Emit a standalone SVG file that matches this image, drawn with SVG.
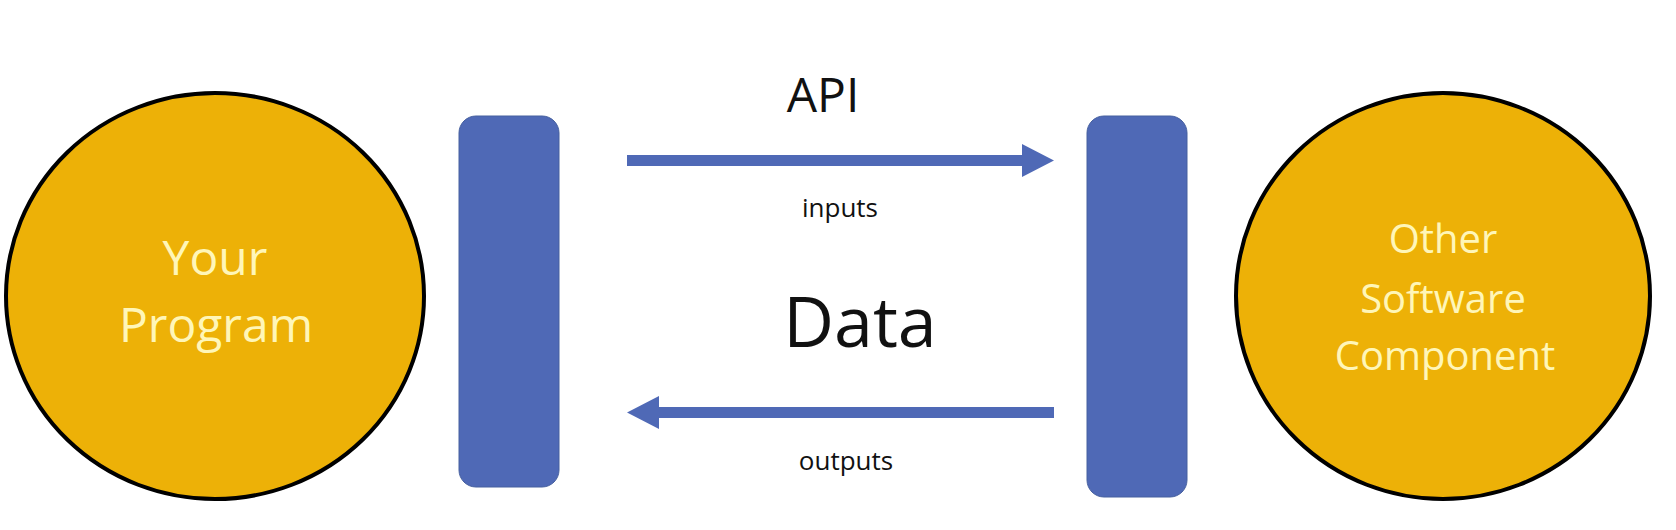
<svg xmlns="http://www.w3.org/2000/svg" width="1676" height="530" viewBox="0 0 1676 530">
  <style>
    .circle { fill: #EDB107; stroke: #000000; stroke-width: 4; }
    .bar { fill: #4F69B6; stroke: #46609f; stroke-width: 1; }
    .arrow { fill: #4F69B6; }
    .ctext { font-family: "Open Sans", "Noto Sans", sans-serif; fill: #FFF6B8; text-anchor: middle; }
    .label { font-family: "Open Sans", "Noto Sans", sans-serif; fill: #111111; text-anchor: middle; }
  </style>
  <rect x="0" y="0" width="1676" height="530" fill="#ffffff"/>
  <g id="your-program">
    <ellipse class="circle" cx="215" cy="296" rx="209" ry="203"/>
    <text class="ctext" x="215" y="275" font-size="48">Your</text>
    <text class="ctext" x="216" y="342" font-size="48">Program</text>
  </g>
  <g id="left-interface">
    <rect class="bar" x="459" y="116" width="100" height="371" rx="17" ry="17"/>
  </g>
  <g id="right-interface">
    <rect class="bar" x="1087" y="116" width="100" height="381" rx="17" ry="17"/>
  </g>
  <g id="other-software-component">
    <ellipse class="circle" cx="1443" cy="296" rx="207" ry="203"/>
    <text class="ctext" x="1443" y="253" font-size="40">Other</text>
    <text class="ctext" x="1443" y="313" font-size="40">Software</text>
    <text class="ctext" x="1445" y="370" font-size="40">Component</text>
  </g>
  <g id="connectors">
    <rect class="arrow" x="627" y="155" width="398" height="11"/>
    <polygon class="arrow" points="1022,144 1054,160.5 1022,177"/>
    <rect class="arrow" x="656" y="407" width="398" height="11"/>
    <polygon class="arrow" points="627,412.5 659,396 659,429"/>
  </g>
  <g id="labels">
    <text class="label" x="823" y="112" font-size="48">API</text>
    <text class="label" x="840" y="217" font-size="26">inputs</text>
    <text class="label" x="860" y="347" font-size="70">Data</text>
    <text class="label" x="846" y="470" font-size="26">outputs</text>
  </g>
</svg>
